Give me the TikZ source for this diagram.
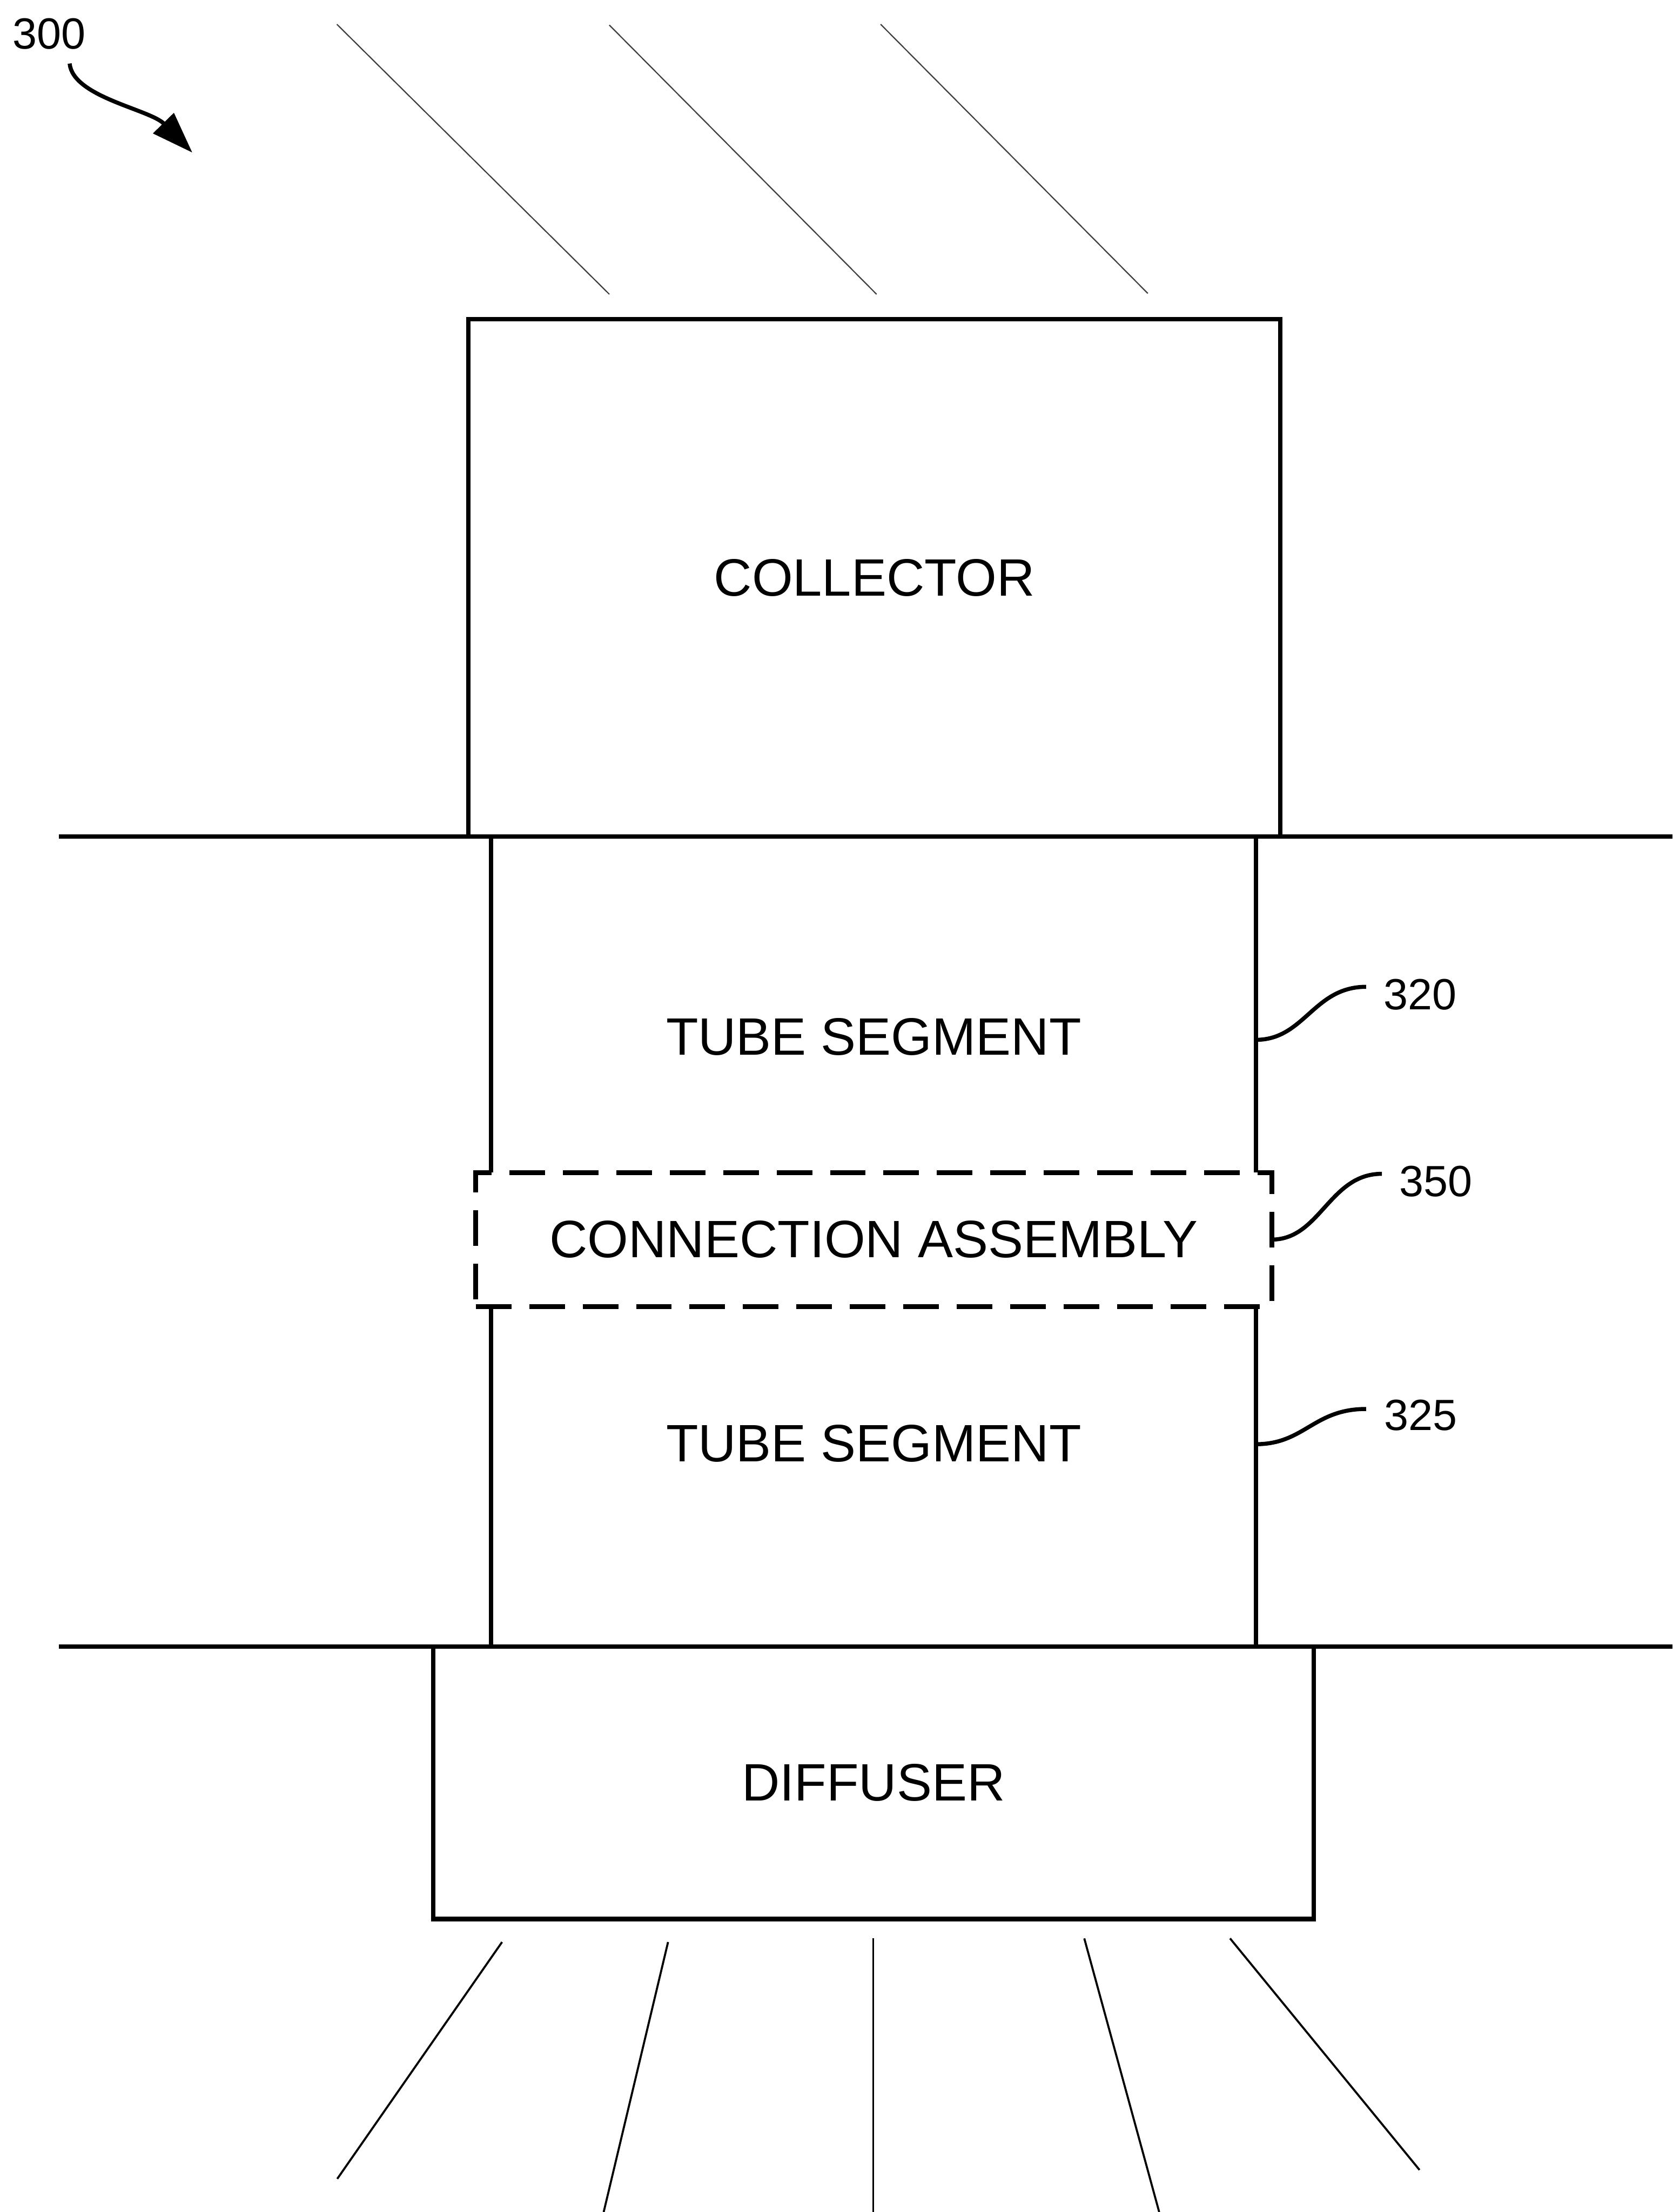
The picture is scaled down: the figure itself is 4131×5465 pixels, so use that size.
\documentclass[tikz,border=0pt]{standalone}
\usepackage{fontspec}
\setmainfont{Liberation Sans}
\usetikzlibrary{arrows.meta}
\begin{document}
\begin{tikzpicture}[x=0.1pt,y=-0.1pt,
  edge/.style={line width=1.1pt},
  box/.style={draw, line width=1.1pt, inner sep=0pt, outer sep=0pt, font=\fontsize{13}{15}\selectfont},
  hidden/.style={inner sep=0pt, outer sep=0pt},
  txt/.style={inner sep=0pt, font=\fontsize{13}{15}\selectfont},
  dashbox/.style={draw, line width=1.2pt, inner sep=0pt, outer sep=0pt, dash pattern=on 8.8pt off 4.4pt, font=\fontsize{13}{15}\selectfont},
  lbl/.style={inner sep=0pt, font=\fontsize{10.8}{12}\selectfont},
  leader/.style={line width=1pt},
  ray/.style={line width=0.5pt},
  beam/.style={line width=0.3pt, black!75}
]
\useasboundingbox (0,0) rectangle (4131,5465);

% top incoming rays
\coordinate (t1a) at (832,60);   \coordinate (t1b) at (1505,727);
\coordinate (t2a) at (1505,62);  \coordinate (t2b) at (2165,727);
\coordinate (t3a) at (2175,60);  \coordinate (t3b) at (2835,725);
\draw[beam] (t1a) -- (t1b);
\draw[beam] (t2a) -- (t2b);
\draw[beam] (t3a) -- (t3b);

% ground lines
\coordinate (g1l) at (146,2067); \coordinate (g1r) at (4131,2067);
\coordinate (g2l) at (146,4068); \coordinate (g2r) at (4131,4068);
\draw[edge] (g1l) -- (g1r);
\draw[edge] (g2l) -- (g2r);

% boxes
\node[box, minimum width=200.5pt, minimum height=127.9pt] (collector) at (2159.5,1427.5) {COLLECTOR};
\node[hidden, minimum width=188.9pt, minimum height=83pt] (tube1) at (2157.5,2482) {};
\node[txt] (tube1text) at (2158,2562) {TUBE SEGMENT};
\node[dashbox, minimum width=196.6pt, minimum height=33.1pt] (conn) at (2158,3062.5) {CONNECTION ASSEMBLY};
\node[hidden, minimum width=188.9pt, minimum height=84pt] (tube2) at (2157.5,3648) {};
\node[txt] (tube2text) at (2158,3566) {TUBE SEGMENT};
\node[box, minimum width=217.5pt, minimum height=67.3pt] (diffuser) at (2157.5,4404.5) {DIFFUSER};

\draw[edge] (tube1.south west) -- (tube1.north west) -- (tube1.north east) -- (tube1.south east);
\draw[edge] (tube2.north west) -- (tube2.south west) -- (tube2.south east) -- (tube2.north east);

% reference labels
\node[lbl] (n300) at (121,84) {300};
\node[lbl] (n320) at (3508,2457) {320};
\node[lbl] (n350) at (3547,2919) {350};
\node[lbl] (n325) at (3509,3497) {325};

\coordinate (a300) at (172,157);
\coordinate (t300) at (475,377);
\draw[leader, -{Triangle[length=10.2pt,width=7pt]}] (a300) .. controls (180,240) and (370,270) .. (t300);

\coordinate (e320) at (3374,2438);
\coordinate (e350) at (3413,2900);
\coordinate (e325) at (3374,3481);
\draw[leader] ([yshift=-8.7pt]tube1.east) .. controls +(120,0) and +(-130,0) .. (e320);
\draw[leader] (conn.east) .. controls +(120,0) and +(-130,0) .. (e350);
\draw[leader] ([yshift=8pt]tube2.east) .. controls +(120,0) and +(-130,0) .. (e325);

% outgoing diffused light
\coordinate (b1a) at (1240,4798); \coordinate (b1b) at (833,5383);
\coordinate (b2a) at (1650,4798); \coordinate (b2b) at (1491,5465);
\coordinate (b3a) at (2157,4789); \coordinate (b3b) at (2157,5465);
\coordinate (b4a) at (2678,4789); \coordinate (b4b) at (2863,5465);
\coordinate (b5a) at (3038,4789); \coordinate (b5b) at (3506,5361);
\draw[ray] (b1a) -- (b1b);
\draw[ray] (b2a) -- (b2b);
\draw[ray, line width=0.35pt] (b3a) -- (b3b);
\draw[ray] (b4a) -- (b4b);
\draw[ray] (b5a) -- (b5b);
\end{tikzpicture}
\end{document}
